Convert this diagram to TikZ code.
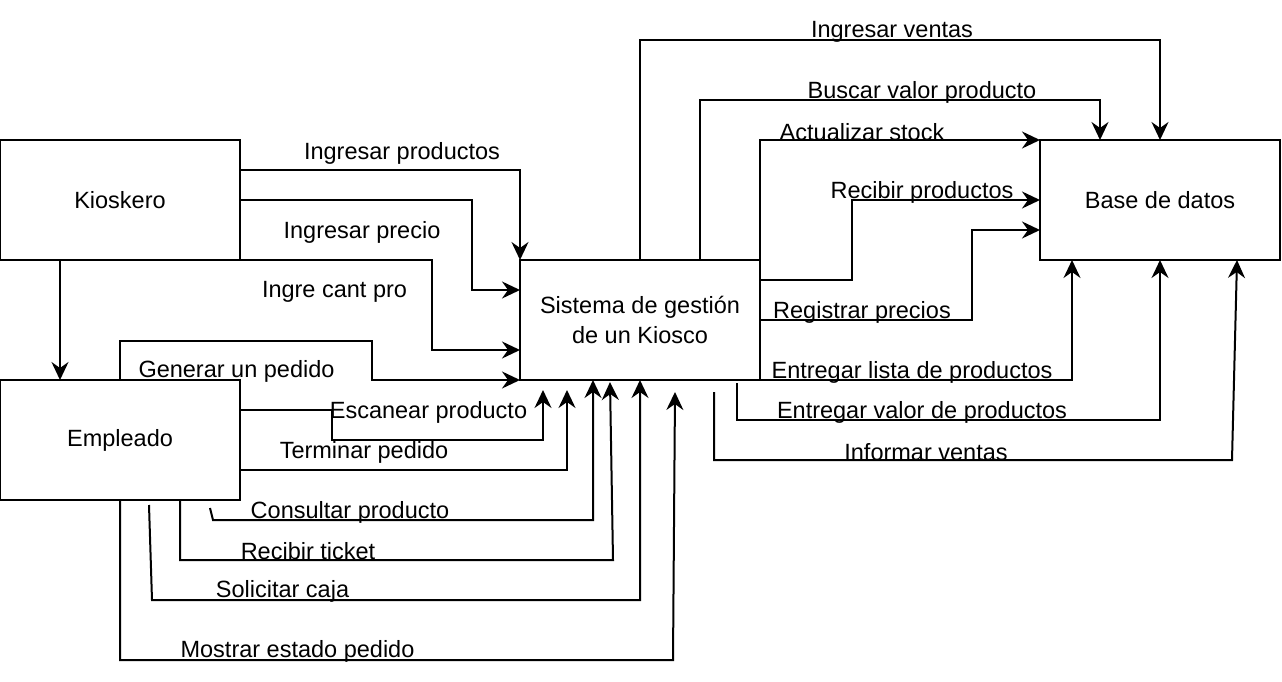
\documentclass[tikz,border=0pt]{standalone}
\usepackage{fontspec}
\setmainfont{Liberation Sans}
\usetikzlibrary{arrows.meta}
\begin{document}
\begin{tikzpicture}[x=1pt,y=-1pt,
  box/.style={draw=black,line width=2pt,fill=white,minimum width=240pt,minimum height=120pt,inner sep=0pt,outer sep=0pt,font=\fontsize{23.5}{30}\selectfont,align=center},
  lbl/.style={inner sep=0pt,font=\fontsize{23.5}{28}\selectfont},
  arr/.style={line width=2pt,-{Stealth[length=18pt,width=17pt,inset=6pt]}},
  ln/.style={line width=2pt}]
\useasboundingbox (0,0) rectangle (1282,682);
\node[box] (k) at (120,200) {Kioskero};
\node[box] (e) at (120,440) {Empleado};
\node[box] (s) at (640,320) {Sistema de gestión\\de un Kiosco};
\node[box] (b) at (1160,200) {Base de datos};

% Kioskero -> Empleado
\draw[arr] ([xshift=-60pt]k.south) -- ([xshift=-60pt]e.north);
% Kioskero -> Sistema
\draw[arr] ([yshift=-30pt]k.north east) -| (s.north west);
\draw[arr] (k.east) -- ++(232,0) |- ([yshift=-30pt]s.north west);
\draw[arr] (k.south east) -- ++(192,0) |- ([yshift=30pt]s.south west);
% Empleado -> Sistema
\draw[arr] (e.north) -- ++(0,-39) -- ++(252,0) -- ++(0,39) -- (s.south west);
\draw[arr] ([yshift=-30pt]e.north east) -- ++(92,0) -- ++(0,30) -| ([xshift=23pt,yshift=-10pt]s.south west);
\draw[arr] ([yshift=30pt]e.south east) -| ([xshift=47pt,yshift=-10pt]s.south west);
\draw[arr] ([xshift=-30pt,yshift=-8pt]e.south east) -- ++(3,12) -| ([xshift=73pt]s.south west);
\draw[arr] ([xshift=-60pt]e.south east) -- ++(0,60) -- ++(433,0) -- ([xshift=90pt,yshift=-2pt]s.south west);
\draw[arr] ([xshift=29pt,yshift=-5pt]e.south) -- ++(3,95) -| (s.south);
\draw[arr] (e.south) -- ++(0,160) -- ++(553,0) -- ([xshift=35pt,yshift=-12pt]s.south);
% Sistema -> Base de datos
\draw[arr] (s.north) -- ++(0,-220) -| (b.north);
\draw[arr] ([xshift=60pt]s.north) -- ++(0,-160) -| ([xshift=-60pt]b.north);
\draw[arr] (s.north east) |- (b.north west);
\draw[arr] ([yshift=-20pt]s.north east) -- ++(92,0) |- (b.west);
\draw[arr] ([yshift=-60pt]s.north east) -- ++(212,0) |- ([yshift=-30pt]b.west);
\draw[arr] (s.south east) -| ([xshift=32pt]b.south west);
\draw[arr] ([xshift=-23pt,yshift=-3pt]s.south east) -- ++(0,37) -| (b.south);
\draw[arr] ([xshift=-46pt,yshift=-12pt]s.south east) -- ++(0,68) -- ++(518,0) -- ([xshift=-43pt]b.south east);

% labels
\node[lbl] (l1) at (402,153) {Ingresar productos};
\node[lbl] (l2) at (362,232) {Ingresar precio};
\node[lbl] (l3) at (334.5,292) {Ingre cant pro};
\node[lbl] (l4) at (236.5,371) {Generar un pedido};
\node[lbl] (l5) at (428.5,412) {Escanear producto};
\node[lbl] (l6) at (364,452) {Terminar pedido};
\node[lbl] (l7) at (350,512) {Consultar producto};
\node[lbl] (l8) at (308,551) {Recibir ticket};
\node[lbl] (l9) at (282.5,591) {Solicitar caja};
\node[lbl] (l10) at (297.5,651) {Mostrar estado pedido};
\node[lbl] (l11) at (892,32) {Ingresar ventas};
\node[lbl] (l12) at (922,92) {Buscar valor producto};
\node[lbl] (l13) at (862,132) {Actualizar stock};
\node[lbl] (l14) at (922,192) {Recibir productos};
\node[lbl] (l15) at (862,312) {Registrar precios};
\node[lbl] (l16) at (912,372) {Entregar lista de productos};
\node[lbl] (l17) at (922,412) {Entregar valor de productos};
\node[lbl] (l18) at (926,452) {Informar ventas};
\end{tikzpicture}
\end{document}
